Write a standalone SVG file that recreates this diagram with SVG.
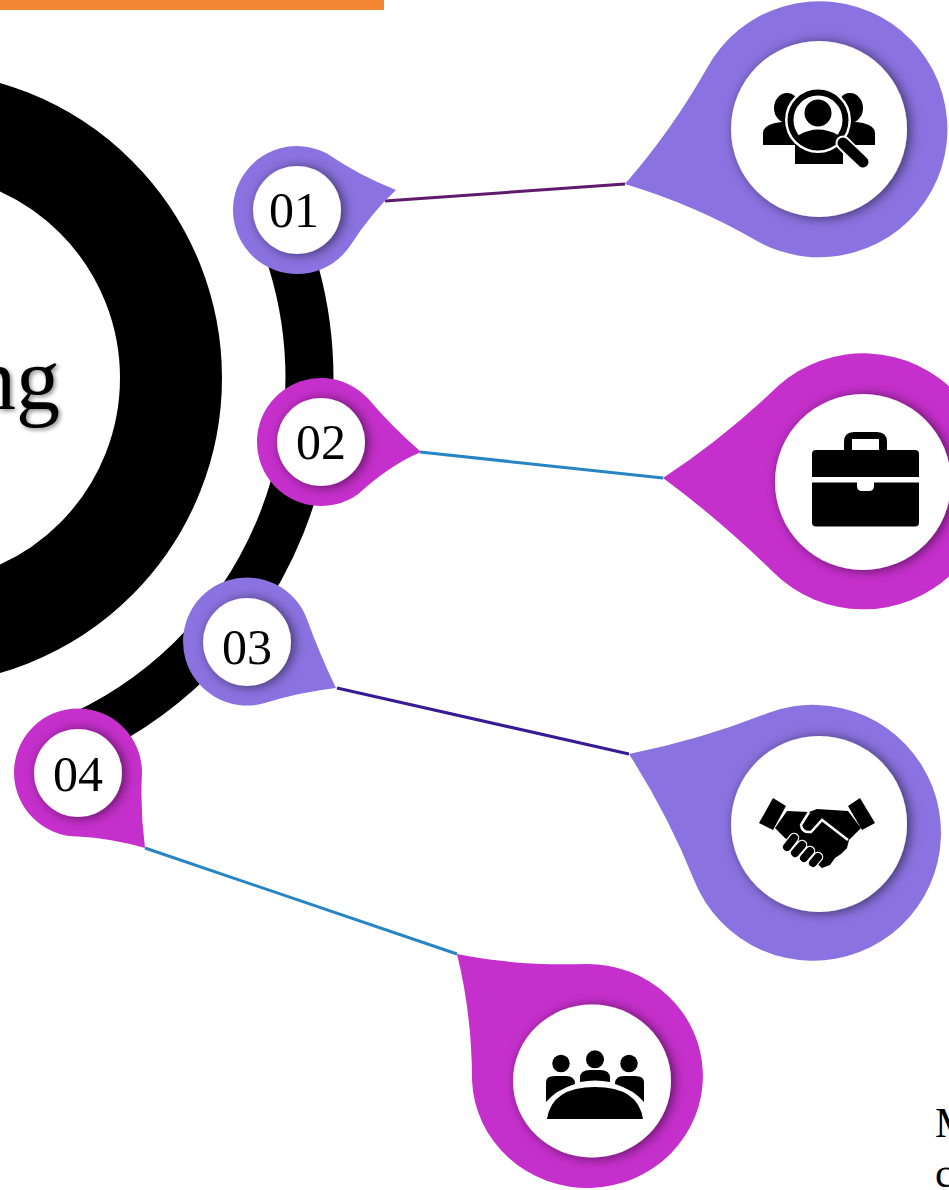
<svg xmlns="http://www.w3.org/2000/svg" width="949" height="1190" viewBox="0 0 949 1190">
<style>
.p{fill:#8a72e0}.m{fill:#c52fcb}
.w{fill:#fff;filter:url(#s)}
.n{font-family:"Liberation Serif",serif;font-size:50px;fill:#000;text-anchor:middle}
.t{font-family:"Liberation Serif",serif;font-size:42px;fill:#000}
.c{fill:none;stroke-width:3}
</style>
<defs>
<filter id="s" x="-30%" y="-30%" width="160%" height="160%"><feDropShadow dx="3" dy="1" stdDeviation="6" flood-color="#000" flood-opacity=".55"/></filter>
<filter id="ts" x="-20%" y="-20%" width="140%" height="140%"><feDropShadow dx="2" dy="2" stdDeviation="2" flood-color="#000" flood-opacity=".45"/></filter>
<clipPath id="lens"><circle cx="818" cy="120" r="26"/></clipPath>
</defs>
<rect id="bar" x="0" y="0" width="384" height="10" fill="#f58634"/>
<g id="hub">
<circle cx="-85" cy="378" r="256" fill="none" stroke="#000" stroke-width="102"/>
<path d="M276,219A394,394 0 0 1 66,742" fill="none" stroke="#000" stroke-width="48"/>
<text x="60" y="409" text-anchor="end" font-family="'Liberation Serif',serif" font-size="88" fill="#000" filter="url(#ts)">ng</text>
</g>
<g id="connectors">
<path class="c" stroke="#5f1a6e" d="M385,201L625,184"/>
<path class="c" stroke="#2685c2" d="M420,452L663,478"/>
<path class="c" stroke="#3a1a94" d="M337,688L629,754"/>
<path class="c" stroke="#2685c2" d="M145,848L457,954"/>
</g>
<g id="step-01">
<path class="p" d="M396,190Q360,176 327,153.500A64,64 0 1 0 350,245.900Q372,212 396,190Z"/>
<circle class="w" cx="297" cy="210" r="44"/>
<text class="n" x="294" y="227">01</text>
</g>
<g id="step-02">
<path class="m" d="M421,452Q392,427 368,398.600A64,64 0 1 0 358,494.200Q390,465 421,452Z"/>
<circle class="w" cx="321" cy="442" r="44"/>
<text class="n" x="321" y="459">02</text>
</g>
<g id="step-03">
<path class="p" d="M336,688Q320,655 307,619.200A64,64 0 1 0 263,703.500Q300,692 336,688Z"/>
<circle class="w" cx="247" cy="642" r="44"/>
<text class="n" x="247" y="664">03</text>
</g>
<g id="step-04">
<path class="m" d="M145,848Q140,810 142,772.500A64,64 0 1 0 78,836.500Q110,838 145,848Z"/>
<circle class="w" cx="78" cy="773" r="44"/>
<text class="n" x="78" y="791">04</text>
</g>
<g id="icon-search">
<path class="p" d="M625,184Q695,205 757,241A128,128 0 1 0 707,68Q672,130 625,184Z"/>
<circle class="w" cx="819" cy="129" r="88"/>
<ellipse cx="787" cy="108" rx="13" ry="15"/><ellipse cx="850" cy="108" rx="13" ry="15"/>
<path d="M763,145V133Q763,126 775,123L795,120V145ZM875,145V133Q875,126 863,123L843,120V145ZM795,140H843V164H795Z"/>
<circle cx="818" cy="120" r="33" fill="#fff"/>
<circle cx="818" cy="120" r="27.500" fill="none" stroke="#000" stroke-width="6"/>
<circle cx="818" cy="113" r="13.500"/>
<path clip-path="url(#lens)" d="M799,135Q818,124 838,135L845,155H791Z"/>
<path d="M843,143L863,163" stroke="#fff" stroke-width="15" stroke-linecap="round"/>
<path d="M843,143L863,162" stroke="#000" stroke-width="11" stroke-linecap="round"/>
</g>
<g id="icon-case">
<path class="m" d="M663,478Q725,437 778,386A128,128 0 1 1 773,572Q720,520 663,478Z"/>
<circle class="w" cx="863" cy="482" r="88"/>
<rect x="812" y="450" width="107" height="76.500" rx="4"/>
<path d="M844,452V442Q844,432 854,432H877Q887,432 887,442V452H879V439H852V452Z"/>
<rect x="812" y="477" width="107" height="5.500" fill="#fff"/>
<path d="M857,477H874V486Q874,491 869,491H862Q857,491 857,486Z" fill="#fff"/>
</g>
<g id="icon-hands">
<path class="p" d="M629,754Q668,815 694,880A128,128 0 1 0 768,713Q700,740 629,754Z"/>
<circle class="w" cx="819" cy="824" r="88"/>
<path d="M773,798L786,806L773,830L759,823ZM860,798L875,823L862,830L848,806Z"/>
<path d="M787,811L809,812L817,809L848,811L861,828L849,840L847,848L841,854L835,858L830,865L822,868L815,862L800,850L785,838L775,828Z"/>
<path d="M809,812L801,825Q802,833 811,832L822,820L848,840" fill="none" stroke="#fff" stroke-width="2.500"/>
<g fill="none" stroke-linecap="round">
<g stroke="#fff" stroke-width="10.500"><path d="M787,847L794,838M795,853L802,845M804,858L810,851M813,863L818,857"/></g>
<g stroke="#000" stroke-width="8"><path d="M787,847L794,838M795,853L802,845M804,858L810,851M813,863L818,857"/></g>
</g>
</g>
<g id="icon-team">
<path class="m" d="M457,954Q472,1015 472,1080A115.500,112 0 1 0 585,964Q515,966 457,954Z"/>
<ellipse class="w" cx="592" cy="1081" rx="79" ry="76.500"/>
<circle cx="561" cy="1063.500" r="8.700"/><circle cx="595" cy="1059.300" r="9"/><circle cx="629" cy="1063.500" r="8.700"/>
<path d="M546,1102V1082Q546,1076 555,1076H566Q575,1076 575,1084Q556,1090 546,1102ZM644,1102V1082Q644,1076 635,1076H624Q615,1076 615,1084Q634,1090 644,1102ZM580,1082V1078Q580,1070 590,1070H600Q610,1070 610,1078V1082Q595,1079 580,1082Z"/>
<path d="M547,1119Q552,1087 595,1087Q638,1087 643,1119Z"/>
</g>
<g id="cut-text">
<text class="t" x="935" y="1137">M</text>
<text class="t" x="935" y="1187">c</text>
</g>
</svg>
